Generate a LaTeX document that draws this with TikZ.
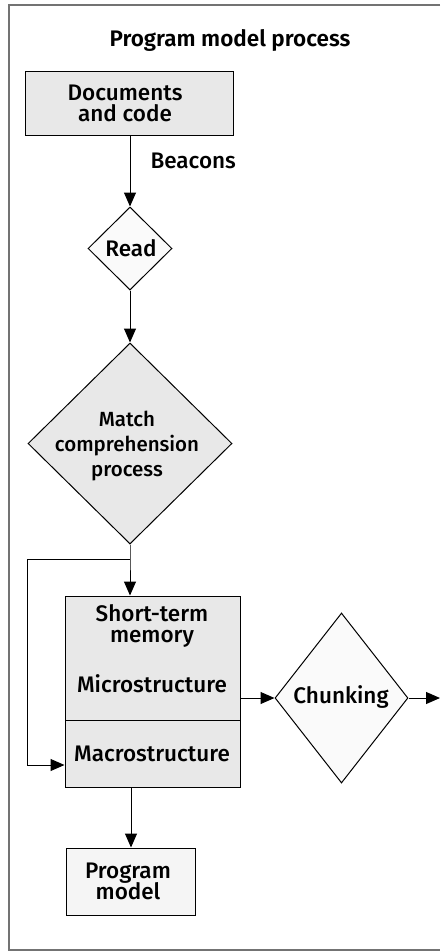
\documentclass[tikz,border=0pt]{standalone}
\usepackage{fontspec}
\setmainfont{Fira Sans}[UprightFont=* Medium, BoldFont=* SemiBold]
\usetikzlibrary{arrows.meta,shapes.geometric}
\tikzset{
  every node/.style={font=\fontsize{22.5}{24}\selectfont, align=center, inner sep=0pt},
  shade box/.style={draw, line width=1pt, fill=black!9, rectangle},
  plain box/.style={draw, line width=1pt, fill=black!4, rectangle},
  decision/.style={draw, line width=1pt, diamond, inner sep=0pt},
  flow/.style={line width=1pt, -{Triangle[length=14pt,width=12pt]}},
  frameline/.style={draw=black!55, line width=1.6pt}
}
\begin{document}
\begin{tikzpicture}[x=1pt,y=-1pt]
\useasboundingbox (0,0) rectangle (440,951);
% outer frame (open on the right)
\draw[frameline] (440,5) -- (9,5) -- (9,950) -- (440,950);

\node (title) at (230,40) {\bfseries Program model process};

\node[shade box, minimum width=208pt, minimum height=64pt] (docs) at (129,103) {};
\node (docstext) at (125,103) {Documents\\[-3pt]and code};

\node[decision, fill=black!2, minimum width=84pt, minimum height=83pt] (read) at (130,248.5) {};
\node (readtext) at (131,248) {Read};

\node[decision, fill=black!9, minimum width=204pt, minimum height=201pt] (match) at (130,443.5) {};
\node[font=\fontsize{20.5}{25}\selectfont] (matchtext) at (127,446)
  {Match\\comprehension\\process};

\node[shade box, minimum width=175pt, minimum height=124pt] (stm) at (152.5,658) {};
\node (stmtext) at (152,626) {Short-term\\[-3pt]memory};
\node (micro) at (152,684) {Microstructure};
\node[shade box, minimum width=175pt, minimum height=67pt] (macro) at (152.5,753.5) {};
\node (macrotext) at (152,754) {Macrostructure};

\node[decision, fill=black!2, minimum width=133pt, minimum height=170pt] (chunk) at (341.5,698) {};
\node (chunktext) at (341,697) {Chunking};

\node[plain box, minimum width=129pt, minimum height=67pt] (pm) at (130.5,881.5) {};
\node (pmtext) at (128,881) {Program\\[-3pt]model};

% connectors
\draw[flow] (docs.south -| read.north) -- node[right=20pt, pos=0.36] (beacons) {Beacons} (read.north);
\draw[flow] (read.south) -- (match.north);
\coordinate (split) at (130,559);
\coordinate (loopcorner) at (27,765);
\draw[flow] (match.south) -- (split) -- (stm.north -| match.south);
\draw[flow] (split) -- (split -| loopcorner) -- (loopcorner) -- (macro.west |- loopcorner);
\coordinate (exit) at (440,698);
\draw[flow] (stm.east |- chunk.west) -- (chunk.west);
\draw[flow] (chunk.east) -- (exit);
\draw[flow] (macro.south -| 131,0) -- (pm.north -| 131,0);
\end{tikzpicture}
\end{document}
